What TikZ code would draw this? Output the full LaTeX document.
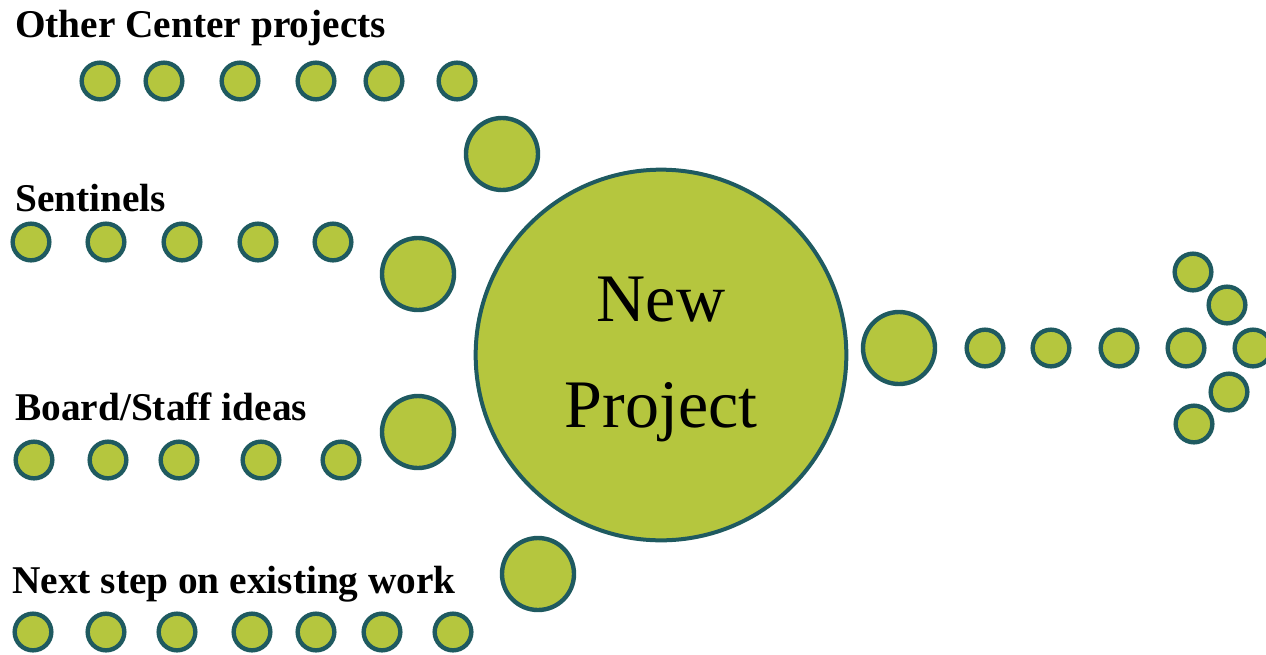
\documentclass[tikz,border=0pt]{standalone}
\usepackage{fontspec}
\setmainfont{Liberation Serif}
\usetikzlibrary{positioning}
\definecolor{dotfill}{RGB}{181,198,62}
\definecolor{dotline}{RGB}{31,90,96}

\begin{document}
\begin{tikzpicture}[x = 0.75pt, y = -0.75pt,
    dot/.style = {circle, draw = dotline, fill = dotfill, line width = 3.3pt, inner sep = 0pt, minimum size = 27.5pt},
    middot/.style = {dot, minimum size = 54pt},
    bigdot/.style = {dot, line width = 3pt, minimum size = 278pt, align = center, text depth = 4pt, font = \fontsize{51}{80}\selectfont},
    source/.style = {anchor = base west, inner sep = 0pt, font = \fontsize{29.5}{32}\selectfont\bfseries}]
  \useasboundingbox (0,0) rectangle (1266,654);

  % the sources
  \node[source] (oclabel) at (15,37) {Other Center projects};
  \node[source] (selabel) at (15,211) {Sentinels};
  \node[source] (bslabel) at (15,420) {Board/Staff ideas};
  \node[source] (nslabel) at (12,593) {Next step on existing work};

  \foreach \x [count = \i] in {100,164,240,316,384,457}
    \node[dot] (oc-\i) at (\x,81) {};
  \foreach \x [count = \i] in {31,106,182,258,333}
    \node[dot] (se-\i) at (\x,242) {};
  \foreach \x [count = \i] in {34,108,179,261,341}
    \node[dot] (bs-\i) at (\x,460) {};
  \foreach \x [count = \i] in {33,106,177,252,316,382,453}
    \node[dot] (ns-\i) at (\x,632) {};

  \node[middot] (oc-in) at (502,154) {};
  \node[middot] (se-in) at (418,274) {};
  \node[middot] (bs-in) at (418,432) {};
  \node[middot] (ns-in) at (538,574) {};

  % the project and what comes out of it
  \node[bigdot] (project) at (661,355) {New\\Project};
  \node[middot] (out) at (899,348) {};
  \foreach \x [count = \i] in {985,1051,1119,1186,1253}
    \node[dot] (out-\i) at (\x,348) {};
  \node[dot] (tip-1) at (1193,272) {};
  \node[dot] (tip-2) at (1227,305) {};
  \node[dot] (tip-3) at (1229,392) {};
  \node[dot] (tip-4) at (1194,424) {};
\end{tikzpicture}
\end{document}
